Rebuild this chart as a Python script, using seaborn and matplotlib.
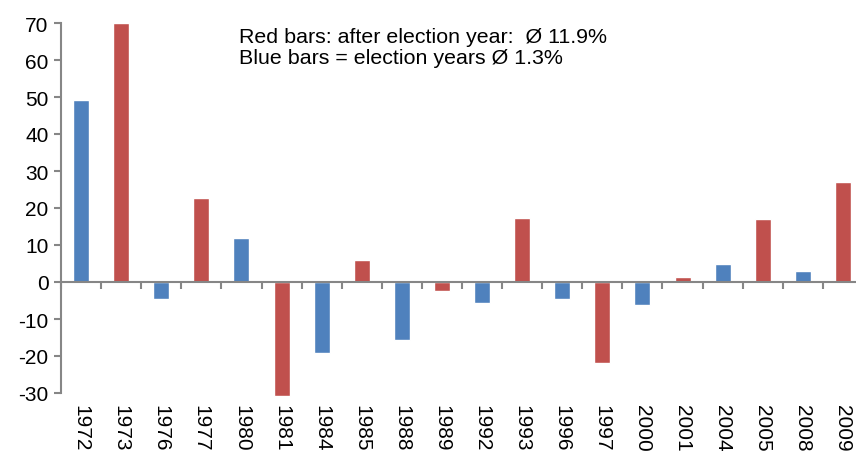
import numpy as np
import pandas as pd
import matplotlib
matplotlib.use("Agg")
import matplotlib.pyplot as plt
import seaborn as sns

# Yearly returns (%), election years vs. years after an election
years = ["1972", "1973", "1976", "1977", "1980", "1981", "1984", "1985", "1988", "1989",
         "1992", "1993", "1996", "1997", "2000", "2001", "2004", "2005", "2008", "2009"]
values = [49.2, 70.0, -4.5, 22.8, 12.0, -30.7, -19.3, 5.9, -15.7, -2.3,
          -5.8, 17.3, -4.5, -21.8, -6.3, 1.4, 4.9, 17.1, 3.0, 27.0]
kind = ["election", "after"] * 10
yticks = [-30, -20, -10, 0, 10, 20, 30, 40, 50, 60, 70]
note = "Red bars: after election year:  Ø 11.9%\nBlue bars = election years Ø 1.3%"

df = pd.DataFrame({"year": years, "value": values, "kind": kind})

sns.set_style("white")
plt.rcParams["font.family"] = ["Liberation Sans", "DejaVu Sans"]

grey = "#868686"
fs = 15
fig = plt.figure(figsize=(8.56, 4.52), dpi=100)
ax = fig.add_axes([61 / 856, 58 / 452, 802 / 856, 370 / 452])

sns.barplot(data=df, x="year", y="value", hue="kind", dodge=False, width=0.4,
            palette={"election": "#4F81BD", "after": "#C0504D"}, legend=False, ax=ax,
            saturation=1)
for p in ax.patches:
    p.set_clip_on(False)

ax.set_ylim(-30, 70)
ax.set_xlim(-0.5, len(years) - 0.5)
ax.set_yticks(yticks)
ax.set_yticklabels([str(t) for t in yticks], fontsize=fs, color="black")
ax.set_xlabel("")
ax.set_ylabel("")

for s in ["top", "right"]:
    ax.spines[s].set_visible(False)
ax.spines["left"].set_color(grey)
ax.spines["left"].set_linewidth(1.5)
ax.spines["bottom"].set_position(("data", 0))
ax.spines["bottom"].set_color(grey)
ax.spines["bottom"].set_linewidth(1.5)

# boundary ticks (no labels) and centered labels at the bottom
ax.set_xticks(np.arange(len(years) + 1) - 0.5)
ax.set_xticklabels([])
ax.set_xticks(np.arange(len(years)), minor=True)
ax.set_xticklabels(years, minor=True, rotation=270, fontsize=fs, color="black")
ax.tick_params(axis="x", which="major", direction="out", length=5, width=1.5, color=grey, bottom=True)
ax.tick_params(axis="x", which="minor", length=0, pad=88)
ax.tick_params(axis="y", direction="out", length=5, width=1.5, color=grey, left=True, pad=4)
for lab in ax.get_xticklabels(minor=True):
    lab.set_verticalalignment("top")

fig.text(239 / 856, 1 - 28 / 452, note, fontsize=15.4, color="black",
         va="top", ha="left", linespacing=1.12)

fig.savefig("out.png", dpi=100)
